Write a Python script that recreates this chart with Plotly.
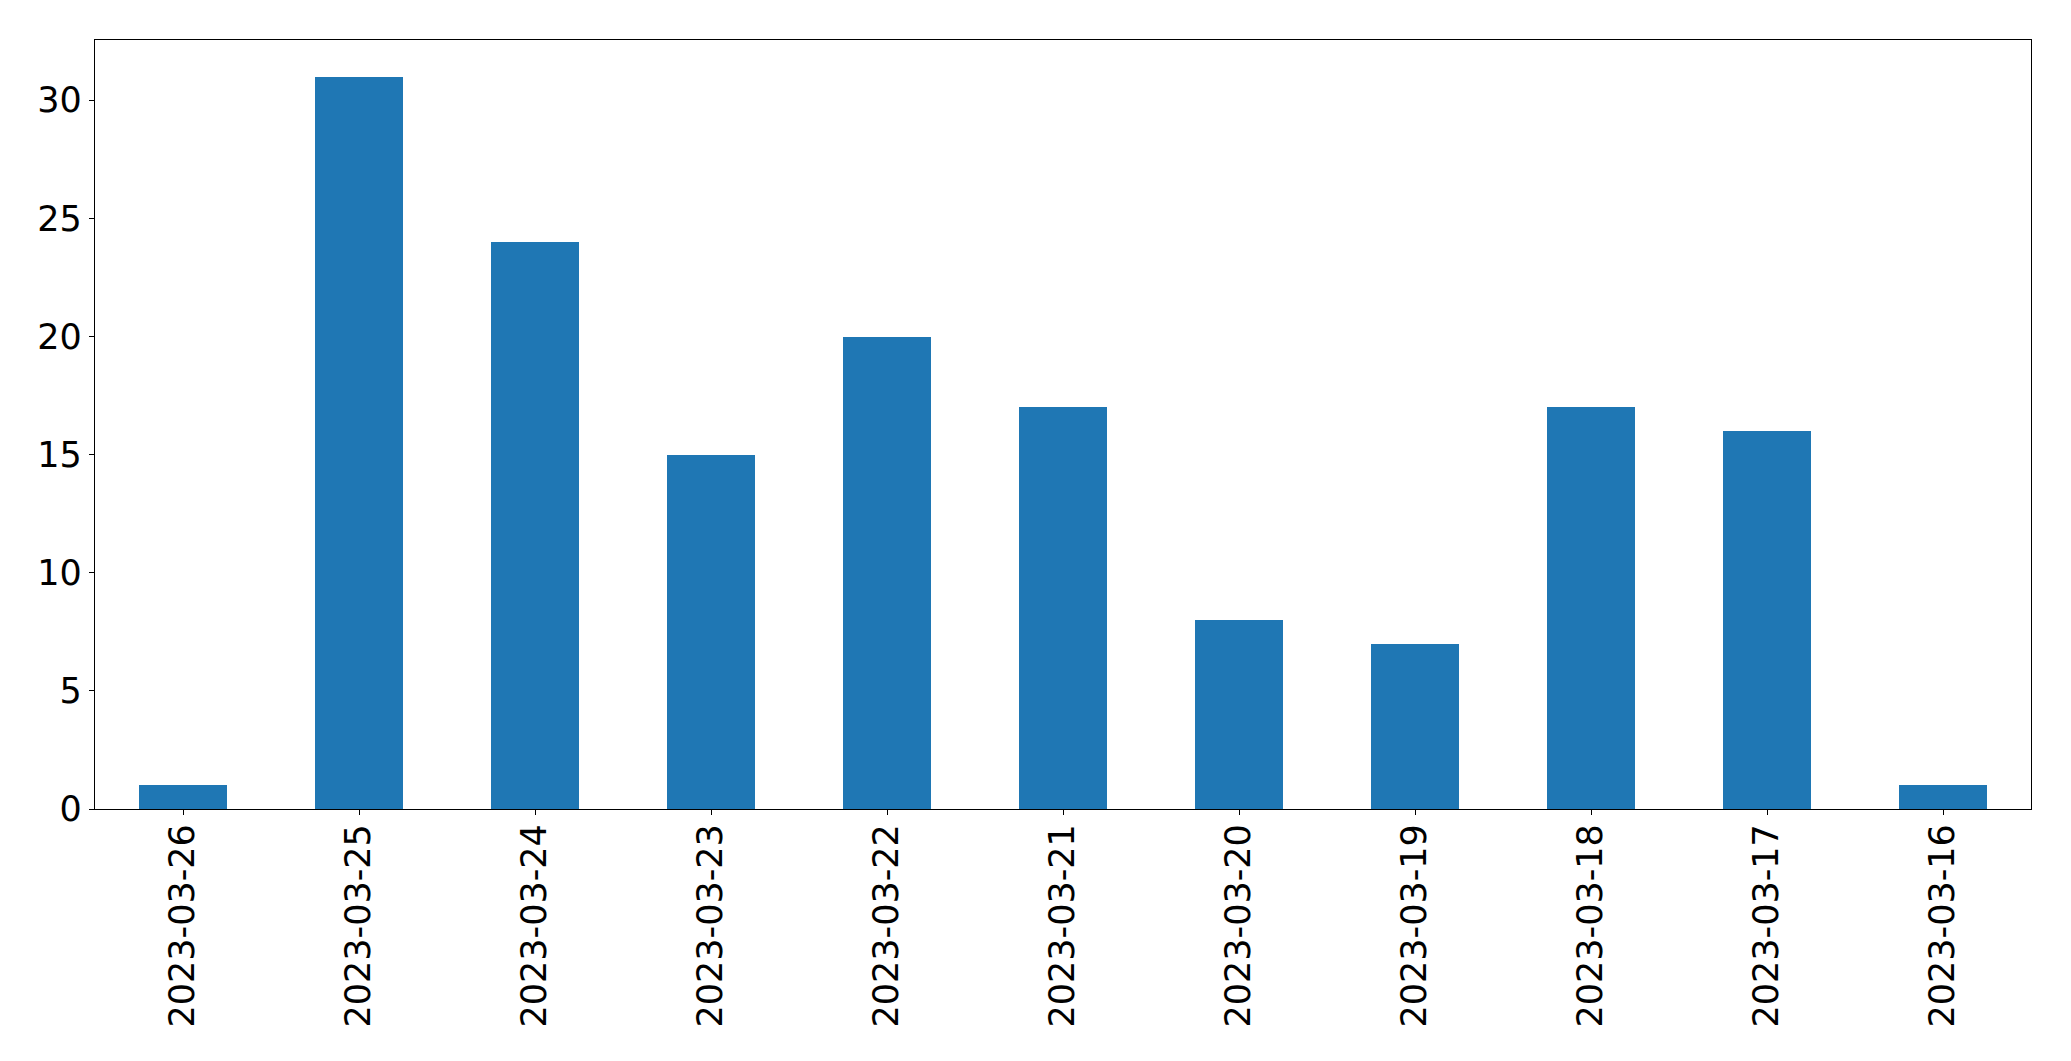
import plotly.graph_objects as go

dates = ["2023-03-26", "2023-03-25", "2023-03-24", "2023-03-23", "2023-03-22",
         "2023-03-21", "2023-03-20", "2023-03-19", "2023-03-18", "2023-03-17",
         "2023-03-16"]
counts = [1, 31, 24, 15, 20, 17, 8, 7, 17, 16, 1]
y_ticks = [0, 5, 10, 15, 20, 25, 30]

fig = go.Figure()
fig.add_trace(go.Bar(x=dates, y=counts, marker=dict(color="#1f77b4", line=dict(width=0)),
                     width=0.5))
# invisible twin trace so the tick marks axis shares the categories
fig.add_trace(go.Bar(x=dates, y=[0] * len(dates), xaxis="x2", showlegend=False,
                     hoverinfo="skip", marker=dict(opacity=0)))

font = dict(family="DejaVu Sans", size=35, color="black")
# page body has an 8px default margin, so the figure is sized to fit
fig.update_layout(
    template="none",
    width=2063, height=1053, autosize=False,
    margin=dict(l=86.5, r=39.5, t=31.5, b=252, pad=0),
    plot_bgcolor="white", paper_bgcolor="white",
    showlegend=False, bargap=0,
    font=font,
    xaxis=dict(type="category", range=[-0.5, 10.5], tickangle=-90, automargin=False,
               showline=True, mirror=True, linecolor="black", linewidth=1.3,
               ticks="", ticklen=0, ticklabelstandoff=0,
               showgrid=False, zeroline=False, tickfont=font),
    xaxis2=dict(type="category", range=[-0.5, 10.5], overlaying="x", side="bottom",
                anchor="y", automargin=False, showticklabels=False,
                showline=False, ticks="outside", ticklen=5, tickwidth=1.3,
                tickcolor="black", showgrid=False, zeroline=False),
    yaxis=dict(range=[0, 32.55], tickvals=y_ticks, automargin=False,
               showline=True, mirror=True, linecolor="black", linewidth=1.3,
               ticks="outside", ticklen=5, tickwidth=1.3, tickcolor="black",
               showgrid=False, zeroline=False, tickfont=font),
)

fig.write_html("out.html")
